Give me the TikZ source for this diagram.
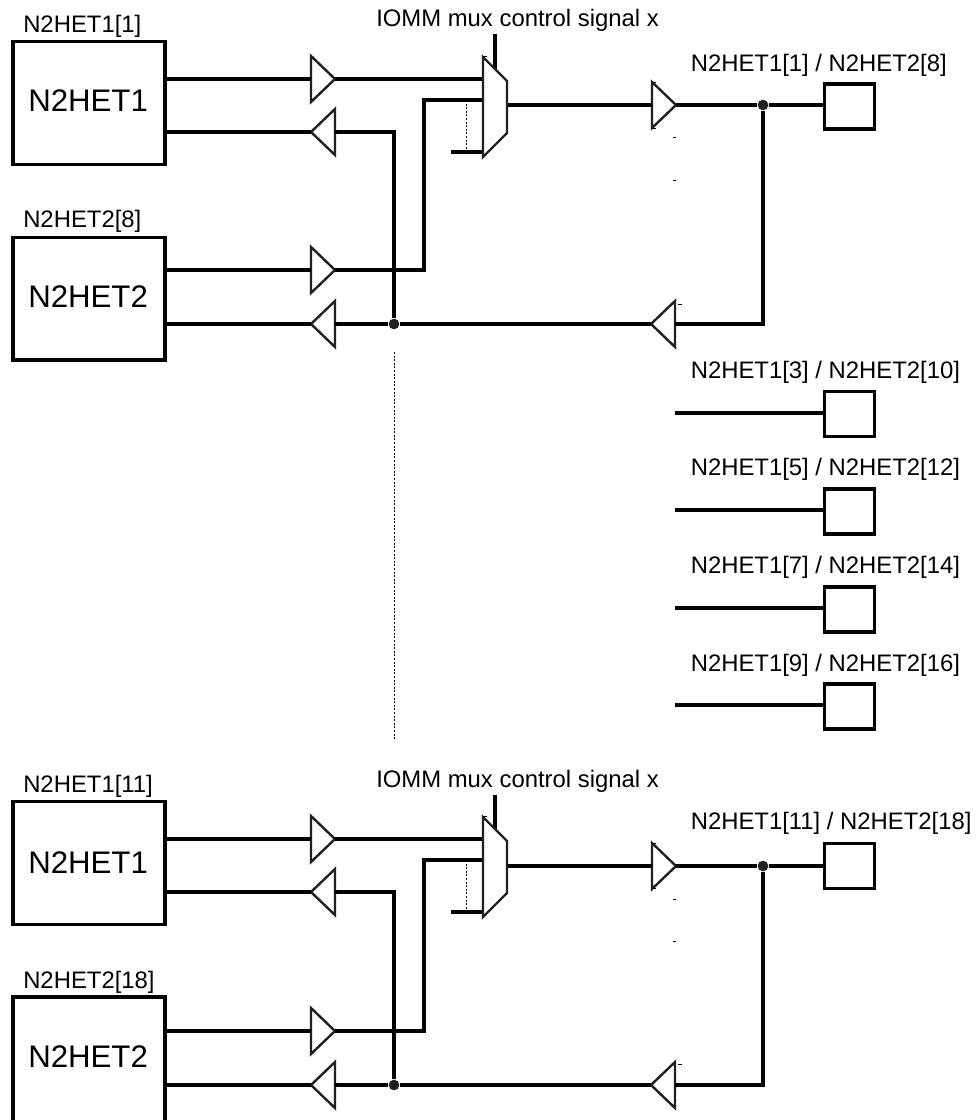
\documentclass[tikz,border=0pt]{standalone}
\usepackage{fontspec}
\setmainfont{Liberation Sans}
\definecolor{ink}{HTML}{231F20}
\tikzset{
  x=0.75pt,y=-0.75pt,
  wire/.style={draw=black,line width=2.4pt,line cap=butt},
  wirethick/.style={draw=black,line width=2.4pt},
  hw/.style={draw=black,line width=2.5pt,minimum width=114pt,inner sep=0pt,fill=white},
  pinbox/.style={draw=black,line width=2.5pt,minimum width=37.3pt,minimum height=33.8pt,inner sep=0pt,fill=white},
  gate/.style={draw=ink,line width=1.8pt,fill=white,line join=miter},
  dotted wire/.style={draw=black,line width=0.7pt,dash pattern=on 1.5pt off 1.2pt},
  sig/.style={inner sep=0pt,font=\fontsize{17.9pt}{20pt}\selectfont,anchor=base west},
  big/.style={inner sep=0pt,font=\fontsize{23.4pt}{26pt}\selectfont,anchor=base west},
  junction/.style={circle,fill=ink,draw=none,minimum size=8pt,inner sep=0pt},
  tick/.style={draw=black,line width=0.7pt},
}
% right-pointing buffer: name, x of flat side, y
\newcommand{\bufr}[3]{%
  \coordinate (#1i) at (#2,#3);
  \coordinate (#1o) at (#2+24,#3);
  \draw[gate] (#2,#3-23) -- (#2+24,#3) -- (#2,#3+23) -- cycle;
}
% left-pointing buffer: name, x of apex, y
\newcommand{\bufl}[3]{%
  \coordinate (#1o) at (#2,#3);
  \coordinate (#1i) at (#2+24,#3);
  \draw[gate] (#2+24,#3-23) -- (#2,#3) -- (#2+24,#3+23) -- cycle;
}
\begin{document}
\begin{tikzpicture}
\useasboundingbox[fill=white] (0,0) rectangle (976,1120);

% ===== top group =====
\node[sig] (t1) at (23,32.5) {N2HET1[1]};
\node[hw,minimum height=92pt] (a1) at (89,103) {};
\node[big] (a1t) at (28,112) {N2HET1};
\node[sig] (t2) at (23,227.5) {N2HET2[8]};
\node[hw,minimum height=92pt] (a2) at (89,298.5) {};
\node[big] (a2t) at (28,307) {N2HET2};
\node[sig] (t3) at (376,27) {IOMM mux control signal x};
\node[sig] (t4) at (690.5,72) {N2HET1[1] / N2HET2[8]};

\coordinate (a1o) at (165,79);
\coordinate (a1r) at (165,132);
\coordinate (a2o) at (165,270);
\coordinate (a2r) at (165,324);
\bufr{b1}{311}{79}
\bufl{b2}{311}{132}
\bufr{b3}{311}{270}
\bufl{b4}{311}{324}
\bufr{b5}{652}{105}
\bufl{b6}{651}{324}
\coordinate (mtl) at (483,57);
\coordinate (mtr) at (507,81);
\coordinate (mbr) at (507,133);
\coordinate (mbl) at (483,157);
\coordinate (ctl) at (495,34);
\coordinate (ctlb) at (495,69);
\coordinate (m1) at (483,79);
\coordinate (m2) at (483,100);
\coordinate (m3) at (483,152);
\coordinate (m3s) at (451,152);
\coordinate (mo) at (507,105);
\coordinate (c2) at (424,100);
\coordinate (c3) at (424,270);
\coordinate (d1) at (466,100);
\coordinate (d2) at (466,152);
\coordinate (r1) at (394,132);
\node[junction] (j1) at (394,324) {};
\node[junction] (j2) at (763,105) {};
\coordinate (r2) at (763,324);
\node[pinbox] (p1) at (849.5,106.5) {};
\draw[wirethick] (a1o) -- (b1i);
\draw[wirethick] (b1o) -- (m1);
\draw[wirethick] (a1r) -- (b2o);
\draw[wirethick] (b2i) -- (r1) -- (j1);
\draw[wire] (a2o) -- (b3i);
\draw[wire] (b3o) -- (c3) -- (c2) -- (m2);
\draw[wire] (a2r) -- (b4o);
\draw[wire] (b4i) -- (j1) -- (b6o);
\draw[wire] (m3s) -- (m3);
\draw[dotted wire] (d1) -- (d2);
\draw[wire] (mo) -- (b5i);
\draw[wire] (b5o) -- (j2);
\draw[wire] (j2) -- (p1.west |- j2);
\draw[wire] (j2) -- (r2) -- (b6i);
\draw[wire] (ctl) -- (ctlb);
\draw[gate] (mtl) -- (mtr) -- (mbr) -- (mbl) -- cycle;
\coordinate (v1) at (394,352);
\coordinate (v2) at (394,740);
\draw[dotted wire] (v1) -- (v2);
\coordinate (k1) at (673,137); \coordinate (k1b) at (676,137);
\coordinate (k2) at (673,180); \coordinate (k2b) at (676,180);
\coordinate (k3) at (678,304); \coordinate (k3b) at (682,304);
\coordinate (k4) at (652,82.5); \coordinate (k4b) at (656,82.5);
\coordinate (k5) at (652,128); \coordinate (k5b) at (656,128);
\coordinate (k6) at (483,56.5); \coordinate (k6b) at (487,56.5);
\draw[tick] (k1) -- (k1b);
\draw[tick] (k2) -- (k2b);
\draw[tick] (k3) -- (k3b);
\draw[tick] (k4) -- (k4b);
\draw[tick] (k5) -- (k5b);
\draw[tick] (k6) -- (k6b);

% ===== pins =====
\node[sig] (t5) at (690.5,378) {N2HET1[3] / N2HET2[10]};
\node[pinbox] (p2) at (849.5,414) {};
\coordinate (s2) at (675,413);
\draw[wirethick] (s2) -- (p2.west |- s2);
\node[sig] (t6) at (690.5,475) {N2HET1[5] / N2HET2[12]};
\node[pinbox] (p3) at (849.5,511.5) {};
\coordinate (s3) at (675,510);
\draw[wirethick] (s3) -- (p3.west |- s3);
\node[sig] (t7) at (690.5,573) {N2HET1[7] / N2HET2[14]};
\node[pinbox] (p4) at (849.5,609.5) {};
\coordinate (s4) at (675,608);
\draw[wirethick] (s4) -- (p4.west |- s4);
\node[sig] (t8) at (690.5,671) {N2HET1[9] / N2HET2[16]};
\node[pinbox] (p5) at (849.5,706.5) {};
\coordinate (s5) at (675,705);
\draw[wirethick] (s5) -- (p5.west |- s5);

% ===== bottom group =====
\node[sig] (u1) at (23,792.5) {N2HET1[11]};
\node[hw,minimum height=92pt] (e1) at (89,863) {};
\node[big] (e1t) at (28,873) {N2HET1};
\node[sig] (u2) at (23,988) {N2HET2[18]};
\node[hw,minimum height=100pt] (e2) at (89,1063.5) {};
\node[big] (e2t) at (28,1067) {N2HET2};
\node[sig] (u3) at (376,787) {IOMM mux control signal x};
\node[sig] (u4) at (690.5,829) {N2HET1[11] / N2HET2[18]};

\coordinate (e1o) at (165,839);
\coordinate (e1r) at (165,892);
\coordinate (e2o) at (165,1031);
\coordinate (e2r) at (165,1085);
\bufr{f1}{311}{839}
\bufl{f2}{311}{892}
\bufr{f3}{311}{1031}
\bufl{f4}{311}{1085}
\bufr{f5}{652}{866}
\bufl{f6}{651}{1085}
\coordinate (ntl) at (483,817);
\coordinate (ntr) at (507,841);
\coordinate (nbr) at (507,893);
\coordinate (nbl) at (483,917);
\coordinate (dtl) at (495,795);
\coordinate (dtlb) at (495,829);
\coordinate (n1) at (483,839);
\coordinate (n2) at (483,860);
\coordinate (n3) at (483,912);
\coordinate (n3s) at (451,912);
\coordinate (no) at (507,866);
\coordinate (g2) at (424,860);
\coordinate (g3) at (424,1031);
\coordinate (h1) at (466,860);
\coordinate (h2) at (466,912);
\coordinate (q1) at (394,892);
\node[junction] (l1) at (394,1085) {};
\node[junction] (l2) at (763,866) {};
\coordinate (q2) at (763,1085);
\node[pinbox] (p6) at (849.5,866) {};
\draw[wirethick] (e1o) -- (f1i);
\draw[wirethick] (f1o) -- (n1);
\draw[wire] (e1r) -- (f2o);
\draw[wirethick] (f2i) -- (q1) -- (l1);
\draw[wire] (e2o) -- (f3i);
\draw[wire] (f3o) -- (g3) -- (g2) -- (n2);
\draw[wirethick] (e2r) -- (f4o);
\draw[wirethick] (f4i) -- (l1) -- (f6o);
\draw[wirethick] (n3s) -- (n3);
\draw[dotted wire] (h1) -- (h2);
\draw[wirethick] (no) -- (f5i);
\draw[wirethick] (f5o) -- (l2);
\draw[wire] (l2) -- (p6.west |- l2);
\draw[wire] (l2) -- (q2) -- (f6i);
\draw[wire] (dtl) -- (dtlb);
\draw[gate] (ntl) -- (ntr) -- (nbr) -- (nbl) -- cycle;
\coordinate (w1) at (673,899); \coordinate (w1b) at (676,899);
\coordinate (w2) at (673,941); \coordinate (w2b) at (676,941);
\coordinate (w3) at (678,1064); \coordinate (w3b) at (682,1064);
\coordinate (w4) at (652,843); \coordinate (w4b) at (656,843);
\coordinate (w5) at (652,888); \coordinate (w5b) at (656,888);
\coordinate (w6) at (483,816.5); \coordinate (w6b) at (487,816.5);
\draw[tick] (w1) -- (w1b);
\draw[tick] (w2) -- (w2b);
\draw[tick] (w3) -- (w3b);
\draw[tick] (w4) -- (w4b);
\draw[tick] (w5) -- (w5b);
\draw[tick] (w6) -- (w6b);
\end{tikzpicture}
\end{document}
